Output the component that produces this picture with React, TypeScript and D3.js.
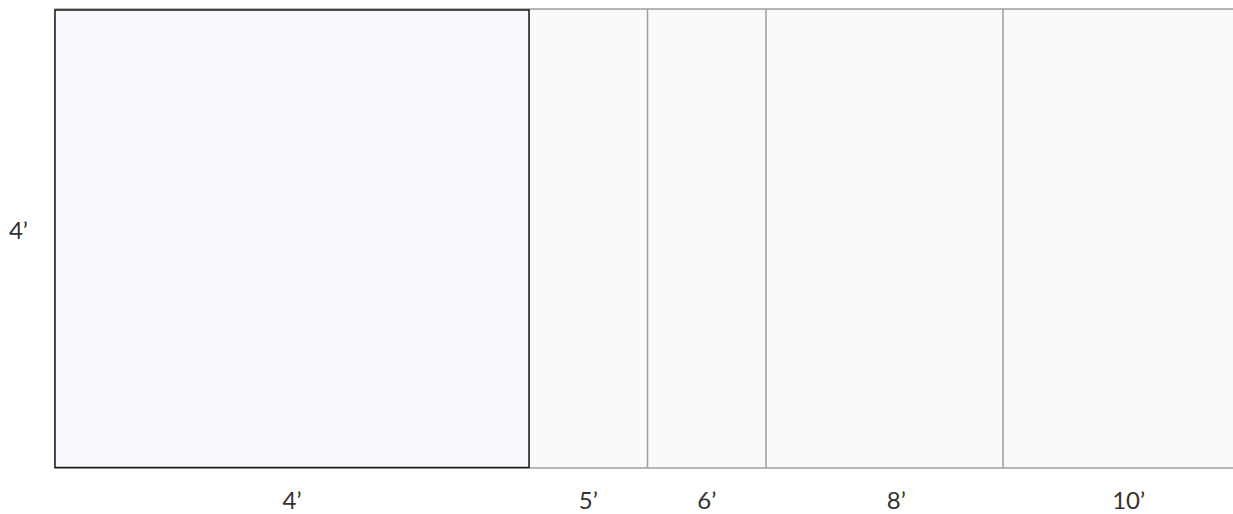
import React from "react";
import * as d3 from "d3";

// Section boundaries (feet) along the length
const sectionLabels = ["4’", "5’", "6’", "8’", "10’"];
const sectionEnds = [4, 5, 6, 8, 10];
// Label positions (feet)
const labelAt = [2, 4.5, 5.5, 7.1, 9.06];
const depthFeet = 4;
const depthLabel = "4’";
const highlightIndex = 0;

const W = 1233;
const H = 514;

export default function App() {
  const x = d3.scaleLinear().domain([0, 10]).range([55, 1240]);
  const y = d3.scaleLinear().domain([0, depthFeet]).range([9, 468]);
  const starts = [0, ...sectionEnds.slice(0, -1)];
  const hl = sectionEnds[highlightIndex];
  const font = "Lato, 'Noto Sans', sans-serif";
  return (
    <svg
      width={W}
      height={H}
      style={{ position: "fixed", left: 0, top: 0, background: "#fff" }}
    >
      <rect
        x={x(0)}
        y={y(0)}
        width={x(10) - x(0)}
        height={y(depthFeet) - y(0)}
        fill="#fafafa"
        stroke="#9e9e9e"
        strokeWidth={1.5}
      />
      {sectionEnds.slice(0, -1).map((e, i) => (
        <line
          key={i}
          x1={x(e)}
          x2={x(e)}
          y1={y(0)}
          y2={y(depthFeet)}
          stroke="#9e9e9e"
          strokeWidth={1.5}
        />
      ))}
      <rect
        x={x(0)}
        y={y(0) + 1}
        width={x(hl) - x(0)}
        height={y(depthFeet) - y(0) - 1.5}
        fill="#f8f8fe"
        stroke="#1a1a1a"
        strokeWidth={1.5}
      />
      {sectionLabels.map((l, i) => (
        <text
          key={l}
          x={x(labelAt[i] ?? (starts[i] + sectionEnds[i]) / 2)}
          y={509}
          textAnchor="middle"
          fontFamily={font}
          fontSize={24}
          fill="#333"
        >
          {l}
        </text>
      ))}
      <text
        x={28}
        y={239}
        textAnchor="end"
        fontFamily={font}
        fontSize={24}
        fill="#333"
      >
        {depthLabel}
      </text>
    </svg>
  );
}
